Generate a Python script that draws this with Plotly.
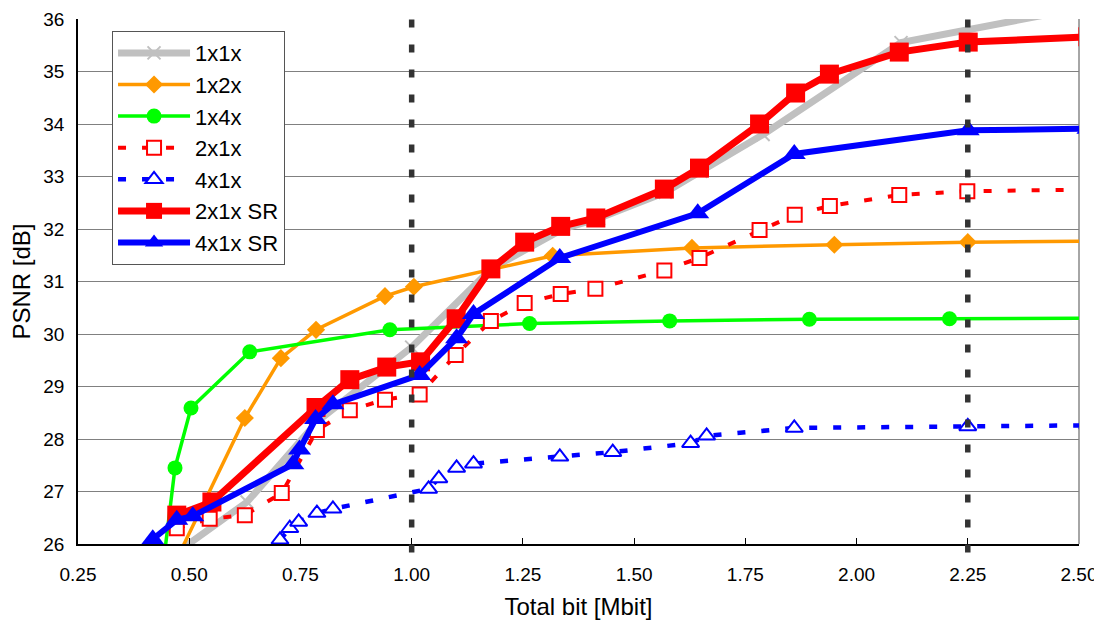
import plotly.graph_objects as go

# ---- data ----
x_1x1x = [0.40, 0.63, 0.79, 1.00, 1.18, 1.34, 1.42, 1.57, 1.65, 1.79, 2.10, 2.56]
y_1x1x = [25.4, 26.80, 28.35, 29.75, 31.25, 32.00, 32.20, 32.70, 33.10, 33.80, 35.55, 36.30]

x_1x2x = [0.46, 0.625, 0.706, 0.785, 0.94, 1.005, 1.317, 1.63, 1.95, 2.25, 2.52]
y_1x2x = [25.50, 28.40, 29.54, 30.08, 30.72, 30.90, 31.49, 31.64, 31.70, 31.75, 31.77]

x_1x4x = [0.44, 0.468, 0.504, 0.636, 0.951, 1.265, 1.58, 1.894, 2.209, 2.52]
y_1x4x = [25.50, 27.45, 28.59, 29.66, 30.08, 30.20, 30.25, 30.28, 30.29, 30.30]

x_2x1x = [0.472, 0.546, 0.625, 0.708, 0.787, 0.861, 0.94, 1.018, 1.099, 1.178, 1.254,
          1.335, 1.413, 1.568, 1.647, 1.782, 1.861, 1.94, 2.096, 2.249, 2.52]
y_2x1x = [26.30, 26.48, 26.55, 26.97, 28.17, 28.55, 28.75, 28.85, 29.60, 30.25, 30.59,
          30.76, 30.86, 31.21, 31.45, 31.98, 32.27, 32.44, 32.65, 32.72, 32.75]

x_4x1x = [0.704, 0.726, 0.746, 0.787, 0.823, 1.038, 1.061, 1.101, 1.139, 1.333, 1.452,
          1.627, 1.663, 1.86, 2.25, 2.52]
y_4x1x = [26.08, 26.30, 26.42, 26.59, 26.67, 27.05, 27.25, 27.45, 27.53, 27.66, 27.75,
          27.92, 28.06, 28.21, 28.24, 28.26]

x_2x1x_sr = [0.472, 0.551, 0.785, 0.861, 0.944, 1.02, 1.10, 1.178, 1.254, 1.335, 1.414,
             1.568, 1.647, 1.782, 1.863, 1.939, 2.096, 2.251, 2.52]
y_2x1x_sr = [26.55, 26.80, 28.60, 29.13, 29.37, 29.47, 30.29, 31.24, 31.75, 32.05, 32.21,
             32.76, 33.16, 34.00, 34.59, 34.95, 35.37, 35.56, 35.66]

x_4x1x_sr = [0.418, 0.472, 0.508, 0.733, 0.748, 0.784, 0.823, 1.018, 1.101, 1.139, 1.333,
             1.643, 1.86, 2.251, 2.52]
y_4x1x_sr = [26.09, 26.46, 26.53, 27.52, 27.80, 28.38, 28.66, 29.22, 29.92, 30.38, 31.45,
             32.30, 33.43, 33.88, 33.91]

x_ticks = [0.25, 0.50, 0.75, 1.00, 1.25, 1.50, 1.75, 2.00, 2.25, 2.50]
y_ticks = [26, 27, 28, 29, 30, 31, 32, 33, 34, 35, 36]
ref_lines_x = [1.00, 2.25]

fig = go.Figure()

def add(name, xs, ys, color, width, dash, symbol, size, mline=None, mfill=None):
    fig.add_trace(go.Scatter(
        x=xs, y=ys, name=name, mode="lines+markers", legendgroup=name,
        line=dict(color=color, width=width, dash=dash),
        marker=dict(symbol=symbol, size=size,
                    color=mfill if mfill else color,
                    line=dict(color=mline if mline else color, width=2 if mline else 0)),
    ))

add("1x1x", x_1x1x, y_1x1x, "#C0C0C0", 7, "solid", "x-thin-open", 13, mline="#C0C0C0")
add("1x2x", x_1x2x, y_1x2x, "#FF9900", 3.5, "solid", "diamond", 14)
add("1x4x", x_1x4x, y_1x4x, "#00FF00", 3.5, "solid", "circle", 15)
add("2x1x", x_2x1x, y_2x1x, "#FF0000", 4, "8px,16px", "square", 14, mline="#FF0000", mfill="white")
add("4x1x", x_4x1x, y_4x1x, "#0000FF", 4.5, "8px,16px", "triangle-up", 15, mline="#0000FF", mfill="white")
add("2x1x SR", x_2x1x_sr, y_2x1x_sr, "#FF0000", 7, "solid", "square", 19)
add("4x1x SR", x_4x1x_sr, y_4x1x_sr, "#0000FF", 6, "solid", "triangle-up", 20)

shapes = []
for xv in ref_lines_x:
    shapes.append(dict(type="line", xref="x", yref="paper", x0=xv, x1=xv, y0=-0.016, y1=1,
                       line=dict(color="#333333", width=5.5, dash="8px,17px"), layer="above"))
shapes.append(dict(type="line", xref="paper", yref="paper", x0=1, x1=1, y0=0, y1=1,
                   line=dict(color="#888888", width=1.5), layer="below"))

# page body adds an 8px margin, so the figure is sized/offset to land the plot area
# at x 78..1079, y 19..544 of the window
fig.update_layout(
    width=1094, height=613,
    margin=dict(l=70, r=23, t=11, b=77, autoexpand=False),
    paper_bgcolor="white", plot_bgcolor="white",
    font=dict(family="Liberation Sans, Arial, sans-serif", size=19, color="black"),
    shapes=shapes,
    legend=dict(x=0.034, y=0.977, xanchor="left", yanchor="top",
                bgcolor="white", bordercolor="#555555", borderwidth=1,
                font=dict(size=22), itemwidth=72, tracegroupgap=0),
    xaxis=dict(range=[0.25, 2.5], tickvals=x_ticks, ticktext=[f"{v:.2f}" for v in x_ticks],
               automargin=False, tickfont=dict(size=19),
               showgrid=False, zeroline=False, showline=True, linecolor="black", linewidth=1.5,
               ticks="inside", ticklen=6, tickcolor="black", ticklabelstandoff=12,
               title=dict(text="Total bit [Mbit]", font=dict(size=24), standoff=15)),
    yaxis=dict(range=[26, 36], tickvals=y_ticks, showgrid=True, gridcolor="#808080", gridwidth=1.2,
               automargin=False, tickfont=dict(size=19),
               zeroline=False, showline=True, linecolor="black", linewidth=1.5,
               ticks="", ticklabelstandoff=8,
               title=dict(text="PSNR [dB]", font=dict(size=24), standoff=12)),
)

fig.write_html("out.html")
